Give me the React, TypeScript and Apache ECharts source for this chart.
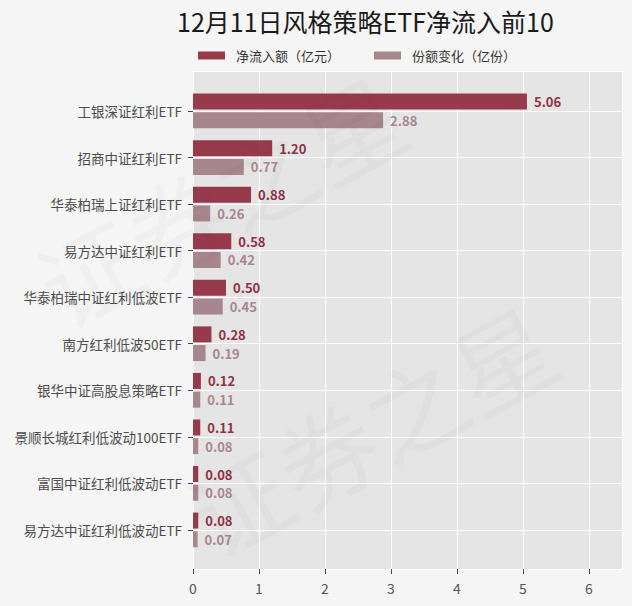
import React, { useEffect, useRef } from "react";
import * as echarts from "echarts";

const titleText = "12月11日风格策略ETF净流入前10";
const seriesNames = ["净流入额（亿元）", "份额变化（亿份）"];
const categories = [
  "工银深证红利ETF",
  "招商中证红利ETF",
  "华泰柏瑞上证红利ETF",
  "易方达中证红利ETF",
  "华泰柏瑞中证红利低波ETF",
  "南方红利低波50ETF",
  "银华中证高股息策略ETF",
  "景顺长城红利低波动100ETF",
  "富国中证红利低波动ETF",
  "易方达中证红利低波动ETF",
];
const netInflow = [5.06, 1.2, 0.88, 0.58, 0.5, 0.28, 0.12, 0.11, 0.08, 0.08];
const shareChange = [2.88, 0.77, 0.26, 0.42, 0.45, 0.19, 0.11, 0.08, 0.08, 0.07];
const xMax = 6.5;

const DARK = "#973B4C";
const LIGHT = "#A8868F";
const FONT = "'Noto Sans CJK SC', 'Noto Sans', sans-serif";

export default function App() {
  const ref = useRef<HTMLDivElement>(null);

  useEffect(() => {
    if (!ref.current) return;
    const chart = echarts.init(ref.current, undefined, { renderer: "svg" });
    const option: any = {
      animation: false,
      backgroundColor: "#F5F5F5",
      textStyle: { fontFamily: FONT },
      title: {
        text: titleText,
        left: 172,
        top: 3,
        textStyle: { fontSize: 25, fontWeight: "normal", color: "#1a1a1a", fontFamily: FONT },
      },
      legend: {
        top: 44,
        left: 193,
        itemWidth: 27,
        itemHeight: 8,
        itemGap: 34,
        icon: "rect",
        textStyle: { fontSize: 13, color: "#333", fontFamily: FONT, padding: [0, 0, 0, 6] },
        data: seriesNames,
      },
      grid: [
        {
          left: 193,
          right: 10,
          top: 71,
          height: 498,
          show: true,
          backgroundColor: "#E5E5E5",
          borderWidth: 0,
        },
        {
          left: 193,
          right: 10,
          top: 87.7,
          height: 465.5,
        },
      ],
      xAxis: [
        {
          type: "value",
          gridIndex: 0,
          position: "bottom",
          min: 0,
          max: xMax,
          interval: 1,
          axisLine: { show: false, onZero: false },
          axisTick: {
            show: true,
            length: 5,
            lineStyle: { color: "#444" },
          },
          axisLabel: {
            showMaxLabel: false,
            fontSize: 14,
            color: "#555",
            margin: 12,
            fontFamily: FONT,
          },
          splitLine: {
            show: true,
            lineStyle: { color: "#FFFFFF", width: 1 },
          },
        },
        {
          type: "value",
          gridIndex: 1,
          min: 0,
          max: xMax,
          show: false,
        },
      ],
      yAxis: [
        {
          type: "value",
          gridIndex: 0,
          inverse: true,
          min: -0.859,
          max: 9.839,
          minInterval: 1,
          maxInterval: 1,
          axisLine: { show: false, onZero: false },
          axisTick: { show: false },
          axisLabel: { show: false },
          splitLine: {
            show: true,
            lineStyle: { color: "#FFFFFF", width: 1 },
          },
        },
        {
          type: "category",
          gridIndex: 1,
          inverse: true,
          data: categories,
          axisLine: { show: false, onZero: false },
          axisTick: {
            show: true,
            alignWithLabel: true,
            length: 5,
            lineStyle: { color: "#444" },
          },
          axisLabel: { fontSize: 13.5, color: "#4d4d4d", margin: 11, fontFamily: FONT },
          splitLine: { show: false },
        },
      ],
      series: [
        {
          name: seriesNames[0],
          type: "bar",
          xAxisIndex: 1,
          yAxisIndex: 1,
          data: netInflow,
          barWidth: 16,
          barGap: "17%",
          itemStyle: { color: DARK },
          label: {
            show: true,
            position: "right",
            distance: 7,
            fontSize: 13,
            fontWeight: "bold",
            color: "#8E3245",
            fontFamily: FONT,
            formatter: (p: any) => Number(p.value).toFixed(2),
          },
        },
        {
          name: seriesNames[1],
          type: "bar",
          xAxisIndex: 1,
          yAxisIndex: 1,
          data: shareChange,
          barWidth: 16,
          barGap: "17%",
          itemStyle: { color: LIGHT },
          label: {
            show: true,
            position: "right",
            distance: 7,
            fontSize: 13,
            fontWeight: "bold",
            color: "#A8868F",
            fontFamily: FONT,
            formatter: (p: any) => Number(p.value).toFixed(2),
          },
        },
      ],
      graphic: [
        {
          type: "text",
          silent: true,
          z: 100,
          x: 20,
          y: 250,
          rotation: 0.5,
          style: {
            text: "证券之星",
            font: "100px 'Noto Sans CJK SC'",
            fill: "rgba(0,0,0,0.025)",
          },
        },
        {
          type: "text",
          silent: true,
          z: 100,
          x: 170,
          y: 480,
          rotation: 0.5,
          style: {
            text: "证券之星",
            font: "100px 'Noto Sans CJK SC'",
            fill: "rgba(0,0,0,0.025)",
          },
        },
      ],
    };
    chart.setOption(option);
    return () => chart.dispose();
  }, []);

  return (
    <div
      ref={ref}
      style={{ position: "fixed", left: 0, top: 0, width: 632, height: 606, background: "#F5F5F5" }}
    />
  );
}
